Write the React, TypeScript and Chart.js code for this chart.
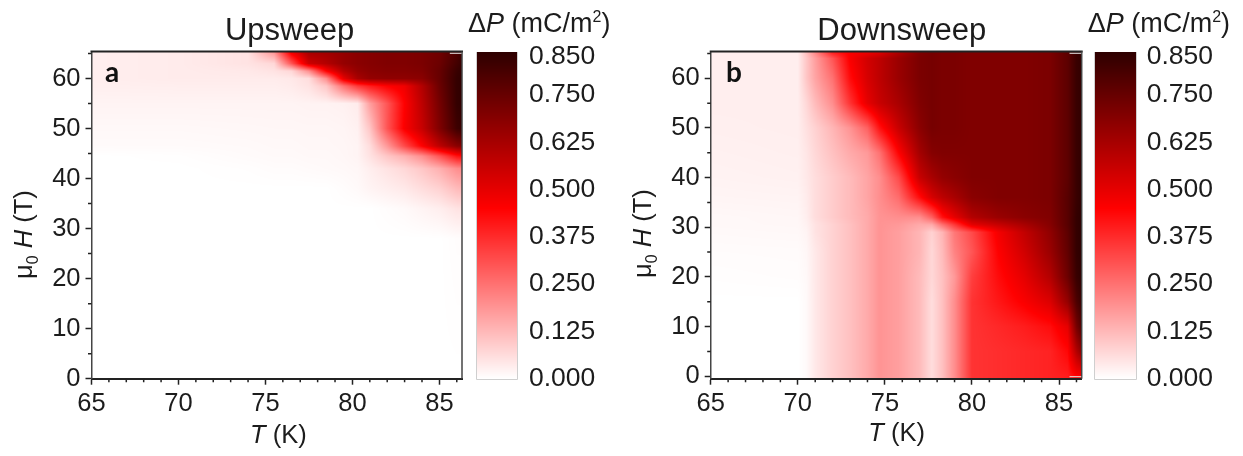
import React, { useEffect, useRef } from "react";
import { Chart, registerables } from "chart.js";

Chart.register(...registerables);

const xMajorLabels = [65, 70, 75, 80, 85];
const xTicks = [65, 66, 67, 68, 69, 70, 71, 72, 73, 74, 75, 76, 77, 78, 79, 80, 81, 82, 83, 84, 85, 86];
const yMajorLabels = [0, 10, 20, 30, 40, 50, 60];
const yTicks = [0, 5, 10, 15, 20, 25, 30, 35, 40, 45, 50, 55, 60, 65];
const colorbarTicks = [0, 0.125, 0.25, 0.375, 0.5, 0.625, 0.75, 0.85];

// Upsweep grid
const upTemps = [65, 70, 74, 75.5, 76.5, 77.5, 78.5, 79.5, 80.3, 81, 82, 83, 84, 85, 86, 86.4];
const upFields = [0, 28, 34, 38, 42, 44.5, 46.5, 50, 55, 58.5, 60, 61.5, 63, 65.5];
const upValues = [
  [0, 0, 0, 0, 0, 0, 0, 0, 0, 0, 0, 0, 0, 0, 0, 0],
  [0, 0, 0, 0, 0, 0, 0, 0, 0, 0, 0, 0, 0, 0, 0.005, 0.005],
  [0, 0, 0, 0, 0, 0, 0, 0, 0, 0, 0.005, 0.01, 0.02, 0.03, 0.05, 0.05],
  [0, 0, 0, 0, 0, 0, 0, 0.005, 0.01, 0.02, 0.03, 0.04, 0.06, 0.08, 0.12, 0.13],
  [0, 0, 0.003, 0.006, 0.006, 0.008, 0.01, 0.012, 0.015, 0.03, 0.05, 0.07, 0.1, 0.14, 0.2, 0.21],
  [0, 0.002, 0.008, 0.01, 0.01, 0.012, 0.012, 0.015, 0.02, 0.05, 0.1, 0.14, 0.2, 0.3, 0.42, 0.44],
  [0.008, 0.008, 0.01, 0.012, 0.012, 0.014, 0.014, 0.016, 0.02, 0.06, 0.18, 0.32, 0.45, 0.58, 0.68, 0.7],
  [0.012, 0.012, 0.014, 0.015, 0.015, 0.016, 0.016, 0.018, 0.025, 0.1, 0.3, 0.46, 0.56, 0.7, 0.83, 0.85],
  [0.02, 0.02, 0.02, 0.02, 0.02, 0.022, 0.022, 0.025, 0.035, 0.17, 0.3, 0.45, 0.58, 0.72, 0.85, 0.86],
  [0.028, 0.03, 0.03, 0.03, 0.035, 0.05, 0.1, 0.25, 0.35, 0.4, 0.45, 0.48, 0.6, 0.74, 0.85, 0.86],
  [0.03, 0.035, 0.035, 0.035, 0.04, 0.06, 0.2, 0.5, 0.62, 0.66, 0.67, 0.67, 0.68, 0.75, 0.85, 0.86],
  [0.03, 0.035, 0.04, 0.05, 0.07, 0.2, 0.45, 0.6, 0.66, 0.68, 0.69, 0.69, 0.7, 0.75, 0.84, 0.86],
  [0.03, 0.035, 0.05, 0.07, 0.3, 0.55, 0.6, 0.66, 0.68, 0.69, 0.7, 0.7, 0.71, 0.74, 0.82, 0.85],
  [0.03, 0.035, 0.05, 0.2, 0.5, 0.63, 0.64, 0.66, 0.68, 0.69, 0.7, 0.7, 0.71, 0.73, 0.8, 0.85],
];

// Downsweep grid
const downTemps = [65, 70, 70.5, 71, 72, 73, 74, 74.7, 75.8, 77, 77.7, 78.3, 79, 80, 81.5, 83, 84.5, 85.5, 86, 86.4];
const downFields = [0, 5, 10, 15, 20, 25, 29, 30.5, 32, 36, 40, 45, 50, 55, 60, 64, 65.5];
const downValues = [
  [0, 0, 0.01, 0.04, 0.08, 0.11, 0.15, 0.19, 0.17, 0.12, 0.06, 0.11, 0.2, 0.36, 0.37, 0.38, 0.39, 0.4, 0.45, 0.46],
  [0, 0, 0.01, 0.04, 0.08, 0.11, 0.15, 0.19, 0.17, 0.12, 0.06, 0.11, 0.2, 0.36, 0.37, 0.38, 0.39, 0.44, 0.6, 0.7],
  [0, 0, 0.01, 0.04, 0.08, 0.11, 0.15, 0.19, 0.17, 0.12, 0.06, 0.11, 0.2, 0.36, 0.38, 0.4, 0.43, 0.5, 0.72, 0.82],
  [0, 0, 0.01, 0.04, 0.08, 0.11, 0.15, 0.19, 0.17, 0.12, 0.06, 0.11, 0.2, 0.36, 0.41, 0.46, 0.52, 0.66, 0.8, 0.86],
  [0.003, 0.005, 0.012, 0.04, 0.08, 0.11, 0.15, 0.19, 0.17, 0.12, 0.07, 0.11, 0.18, 0.34, 0.43, 0.5, 0.6, 0.74, 0.84, 0.87],
  [0.006, 0.007, 0.015, 0.04, 0.08, 0.11, 0.15, 0.19, 0.17, 0.13, 0.07, 0.12, 0.22, 0.3, 0.45, 0.54, 0.65, 0.76, 0.85, 0.87],
  [0.01, 0.012, 0.02, 0.05, 0.08, 0.11, 0.15, 0.19, 0.17, 0.13, 0.08, 0.13, 0.24, 0.32, 0.47, 0.57, 0.67, 0.77, 0.85, 0.87],
  [0.012, 0.014, 0.025, 0.05, 0.08, 0.11, 0.15, 0.19, 0.18, 0.15, 0.15, 0.25, 0.35, 0.5, 0.56, 0.62, 0.69, 0.78, 0.85, 0.87],
  [0.012, 0.015, 0.03, 0.06, 0.09, 0.12, 0.15, 0.19, 0.2, 0.2, 0.28, 0.42, 0.5, 0.6, 0.65, 0.68, 0.7, 0.78, 0.85, 0.87],
  [0.018, 0.02, 0.035, 0.06, 0.09, 0.12, 0.16, 0.2, 0.26, 0.43, 0.53, 0.58, 0.62, 0.68, 0.7, 0.7, 0.71, 0.78, 0.84, 0.87],
  [0.022, 0.025, 0.04, 0.06, 0.09, 0.12, 0.16, 0.2, 0.32, 0.56, 0.62, 0.66, 0.68, 0.7, 0.7, 0.7, 0.71, 0.77, 0.84, 0.87],
  [0.025, 0.028, 0.045, 0.07, 0.11, 0.15, 0.18, 0.25, 0.45, 0.63, 0.69, 0.7, 0.7, 0.7, 0.7, 0.7, 0.71, 0.77, 0.84, 0.86],
  [0.028, 0.03, 0.055, 0.08, 0.13, 0.19, 0.28, 0.42, 0.56, 0.68, 0.72, 0.71, 0.71, 0.7, 0.7, 0.7, 0.71, 0.77, 0.84, 0.86],
  [0.03, 0.03, 0.07, 0.12, 0.2, 0.36, 0.5, 0.56, 0.62, 0.7, 0.72, 0.71, 0.71, 0.7, 0.7, 0.7, 0.71, 0.77, 0.84, 0.86],
  [0.03, 0.03, 0.1, 0.16, 0.25, 0.43, 0.53, 0.58, 0.65, 0.71, 0.72, 0.71, 0.71, 0.7, 0.7, 0.7, 0.71, 0.77, 0.84, 0.86],
  [0.03, 0.03, 0.1, 0.17, 0.3, 0.46, 0.54, 0.58, 0.65, 0.71, 0.72, 0.71, 0.71, 0.7, 0.7, 0.7, 0.71, 0.77, 0.84, 0.86],
  [0.03, 0.03, 0.12, 0.22, 0.42, 0.46, 0.47, 0.5, 0.6, 0.7, 0.72, 0.71, 0.71, 0.7, 0.7, 0.7, 0.71, 0.77, 0.84, 0.86],
];

const FONT = '"Liberation Sans", Arial, sans-serif';
const TEXT = "#1c1c1c";

function colorOf(v: number): [number, number, number] {
  const low = 0.45;
  const high = 0.87;
  if (v <= low) {
    const g = Math.round(255 * (1 - Math.max(v, 0) / low));
    return [255, g, g];
  }
  const t = Math.min((v - low) / (high - low), 1);
  return [Math.round(255 - t * (255 - 42)), 0, 0];
}

function bracket(arr: number[], v: number) {
  let i = 0;
  while (i < arr.length - 2 && v > arr[i + 1]) i++;
  const t = Math.max(0, Math.min(1, (v - arr[i]) / (arr[i + 1] - arr[i])));
  return [i, t];
}

type Run = { text: string; font: string; dy?: number };

function drawRuns(ctx: CanvasRenderingContext2D, runs: Run[]) {
  let x = 0;
  for (const r of runs) {
    ctx.font = r.font;
    ctx.fillText(r.text, x, r.dy || 0);
    x += ctx.measureText(r.text).width;
  }
}

type PanelConfig = {
  temps: number[];
  fields: number[];
  values: number[][];
  yMin: number;
  title: string;
  titleX: number;
  letter: string;
  letterX: number;
  barLeft: number;
  barRight: number;
  chartLeft: number;
  chartRightWidth: number;
  barLabelPadding: number;
  unitX: number;
  xTitleX: number;
  xTitleY: number;
  yTitleX: number;
  yTitleY: number;
  bottomDash: boolean;
};

function makePlugin(p: PanelConfig) {
  return {
    id: "heat",
    beforeDraw(chart: any) {
      const { ctx, chartArea: a, scales } = chart;
      const left = Math.round(a.left);
      const top = Math.round(a.top);
      const w = Math.round(a.right) - left;
      const h = Math.round(a.bottom) - top;
      const img = ctx.createImageData(w, h);
      for (let j = 0; j < h; j++) {
        const H = scales.y.getValueForPixel(top + j + 0.5);
        const [r, u] = bracket(p.fields, H);
        for (let i = 0; i < w; i++) {
          const T = scales.x.getValueForPixel(left + i + 0.5);
          const [c, t] = bracket(p.temps, T);
          const v =
            (1 - u) * ((1 - t) * p.values[r][c] + t * p.values[r][c + 1]) +
            u * ((1 - t) * p.values[r + 1][c] + t * p.values[r + 1][c + 1]);
          const col = colorOf(v);
          const o = (j * w + i) * 4;
          img.data[o] = col[0];
          img.data[o + 1] = col[1];
          img.data[o + 2] = col[2];
          img.data[o + 3] = 255;
        }
      }
      ctx.putImageData(img, left, top);

      // colour bar, through its own scale
      const cs = scales.c;
      for (let y = top; y < top + h; y++) {
        const col = colorOf(cs.getValueForPixel(y + 0.5));
        ctx.fillStyle = `rgb(${col[0]},${col[1]},${col[2]})`;
        ctx.fillRect(p.barLeft, y, p.barRight - p.barLeft, 1);
      }
      ctx.strokeStyle = "#cfcfcf";
      ctx.lineWidth = 1;
      ctx.beginPath();
      ctx.moveTo(p.barLeft - 0.5, top);
      ctx.lineTo(p.barLeft - 0.5, top + h + 0.5);
      ctx.lineTo(p.barRight + 0.5, top + h + 0.5);
      ctx.lineTo(p.barRight + 0.5, top);
      ctx.stroke();
    },
    afterDraw(chart: any) {
      const { ctx, chartArea: a, scales } = chart;
      ctx.save();
      // minor ticks
      ctx.strokeStyle = "#222";
      ctx.lineWidth = 1.5;
      ctx.beginPath();
      for (const t of xTicks) {
        if (xMajorLabels.includes(t)) continue;
        const px = scales.x.getPixelForValue(t);
        ctx.moveTo(px, a.bottom);
        ctx.lineTo(px, a.bottom + 3.5);
      }
      for (const t of yTicks) {
        if (yMajorLabels.includes(t)) continue;
        const py = scales.y.getPixelForValue(t);
        ctx.moveTo(a.left, py);
        ctx.lineTo(a.left - 3.5, py);
      }
      ctx.stroke();

      // frame: top and right
      ctx.strokeStyle = "#222";
      ctx.lineWidth = 2;
      ctx.beginPath();
      ctx.moveTo(a.left - 1, a.top);
      ctx.lineTo(a.right + 1, a.top);
      ctx.stroke();
      ctx.strokeStyle = "#444";
      ctx.lineWidth = 1.5;
      ctx.beginPath();
      ctx.moveTo(a.right, a.top);
      ctx.lineTo(a.right, a.bottom);
      ctx.stroke();

      // small pale dashes at the plot corners
      ctx.strokeStyle = "#e6e6e6";
      ctx.lineWidth = 1;
      ctx.beginPath();
      ctx.moveTo(scales.x.getPixelForValue(85.6), a.top + 1.8);
      ctx.lineTo(a.right - 0.5, a.top + 1.8);
      if (p.bottomDash) {
        ctx.moveTo(scales.x.getPixelForValue(85.6), a.bottom - 2);
        ctx.lineTo(a.right - 0.5, a.bottom - 2);
      }
      ctx.stroke();

      // texts
      ctx.fillStyle = TEXT;
      ctx.textBaseline = "alphabetic";
      ctx.textAlign = "center";
      ctx.font = `31px ${FONT}`;
      ctx.fillText(p.title, p.titleX, 40);
      ctx.textAlign = "left";

      ctx.font = `bold 28px Lato`;
      ctx.fillStyle = "#111";
      ctx.fillText(p.letter, p.letterX, 81.5);
      ctx.fillStyle = TEXT;

      ctx.save();
      ctx.translate(p.unitX, 32);
      drawRuns(ctx, [
        { text: "Δ", font: `27px ${FONT}` },
        { text: "P", font: `italic 27px ${FONT}` },
        { text: " (mC/m", font: `27px ${FONT}` },
        { text: "2", font: `16px ${FONT}`, dy: -10 },
        { text: ")", font: `27px ${FONT}` },
      ]);
      ctx.restore();

      ctx.save();
      ctx.translate(p.xTitleX, p.xTitleY);
      drawRuns(ctx, [
        { text: "T", font: `italic 25.5px ${FONT}` },
        { text: " (K)", font: `25.5px ${FONT}` },
      ]);
      ctx.restore();

      ctx.save();
      ctx.translate(p.yTitleX, p.yTitleY);
      ctx.rotate(-Math.PI / 2);
      drawRuns(ctx, [
        { text: "μ", font: `25.5px ${FONT}` },
        { text: "0", font: `16px ${FONT}`, dy: 6 },
        { text: " ", font: `25.5px ${FONT}` },
        { text: "H", font: `italic 25.5px ${FONT}` },
        { text: " (T)", font: `25.5px ${FONT}` },
      ]);
      ctx.restore();
      ctx.restore();
    },
  };
}

function Panel({ p, left, width }: { p: PanelConfig; left: number; width: number }) {
  const ref = useRef<HTMLCanvasElement>(null);
  useEffect(() => {
    const points: { x: number; y: number }[] = [];
    p.fields.forEach((f) => p.temps.forEach((t) => points.push({ x: t, y: f })));
    const tickFont = { family: FONT, size: 25.5 };
    const chart = new Chart(ref.current as HTMLCanvasElement, {
      type: "scatter",
      data: {
        datasets: [
          {
            data: points,
            pointRadius: 0,
            pointHoverRadius: 0,
            xAxisID: "x",
            yAxisID: "y",
          },
        ],
      },
      plugins: [makePlugin(p)],
      options: {
        animation: false,
        responsive: false,
        events: [],
        layout: { padding: { top: 51.5, left: 0, right: 0, bottom: 0 } },
        plugins: { legend: { display: false }, tooltip: { enabled: false }, title: { display: false } },
        scales: {
          x: {
            type: "linear",
            position: "bottom",
            min: 65,
            max: 86.3,
            afterBuildTicks: (s: any) => {
              s.ticks = xTicks.map((v) => ({ value: v }));
            },
            afterFit: (s: any) => {
              s.height = 456 - 378.7;
              s.paddingLeft = 0;
              s.paddingRight = 0;
            },
            ticks: {
              autoSkip: false,
              maxRotation: 0,
              minRotation: 0,
              padding: 4,
              color: TEXT,
              font: tickFont,
              callback: (v: any) => (xMajorLabels.includes(v) ? String(v) : ""),
            },
            grid: {
              drawOnChartArea: false,
              tickLength: 6,
              tickWidth: 1.5,
              tickColor: (c: any) => (xMajorLabels.includes(c.tick?.value) ? "#222" : "rgba(0,0,0,0)"),
            },
            border: { color: "#222", width: 2 },
          },
          y: {
            type: "linear",
            position: "left",
            min: p.yMin,
            max: 65.4,
            afterBuildTicks: (s: any) => {
              s.ticks = yTicks.map((v) => ({ value: v }));
            },
            afterFit: (s: any) => {
              s.width = p.chartLeft;
              s.paddingTop = 0;
              s.paddingBottom = 0;
            },
            ticks: {
              autoSkip: false,
              padding: 5,
              color: TEXT,
              font: tickFont,
              callback: (v: any) => (yMajorLabels.includes(v) ? String(v) : ""),
            },
            grid: {
              drawOnChartArea: false,
              tickLength: 6,
              tickWidth: 1.5,
              tickColor: (c: any) => (yMajorLabels.includes(c.tick?.value) ? "#222" : "rgba(0,0,0,0)"),
            },
            border: { color: "#444", width: 1.5 },
          },
          c: {
            type: "linear",
            axis: "y",
            position: "right",
            min: 0,
            max: 0.8647,
            afterBuildTicks: (s: any) => {
              s.ticks = colorbarTicks.map((v) => ({ value: v }));
            },
            afterFit: (s: any) => {
              s.width = p.chartRightWidth;
              s.paddingTop = 0;
              s.paddingBottom = 0;
            },
            ticks: {
              autoSkip: false,
              padding: p.barLabelPadding,
              color: TEXT,
              font: { family: FONT, size: 26.5 },
              callback: (v: any) => Number(v).toFixed(3),
            },
            grid: { display: false, drawTicks: false },
            border: { display: false },
          },
        },
      },
    } as any);
    return () => chart.destroy();
  }, []);
  return (
    <canvas
      ref={ref}
      width={width}
      height={456}
      style={{ position: "absolute", left, top: 0, width, height: 456, display: "block" }}
    />
  );
}

const panelA: PanelConfig = {
  temps: upTemps,
  fields: upFields,
  values: upValues,
  yMin: 0,
  title: "Upsweep",
  titleX: 289.5,
  letter: "a",
  letterX: 105,
  barLeft: 477,
  barRight: 517,
  chartLeft: 91.5,
  chartRightWidth: 158,
  barLabelPadding: 67,
  unitX: 468,
  xTitleX: 250,
  xTitleY: 442.5,
  yTitleX: 32,
  yTitleY: 279,
  bottomDash: false,
};

const panelB: PanelConfig = {
  temps: downTemps,
  fields: downFields,
  values: downValues,
  yMin: -0.5,
  title: "Downsweep",
  titleX: 281.7,
  letter: "b",
  letterX: 106,
  barLeft: 475,
  barRight: 516,
  chartLeft: 90.7,
  chartRightWidth: 161.3,
  barLabelPadding: 65,
  unitX: 467.7,
  xTitleX: 248.3,
  xTitleY: 441,
  yTitleX: 30.5,
  yTitleY: 278,
  bottomDash: true,
};

export default function App() {
  return (
    <div style={{ position: "fixed", left: 0, top: 0, width: 1243, height: 456, background: "#fff", overflow: "hidden" }}>
      <Panel p={panelA} left={0} width={620} />
      <Panel p={panelB} left={620} width={623} />
    </div>
  );
}
